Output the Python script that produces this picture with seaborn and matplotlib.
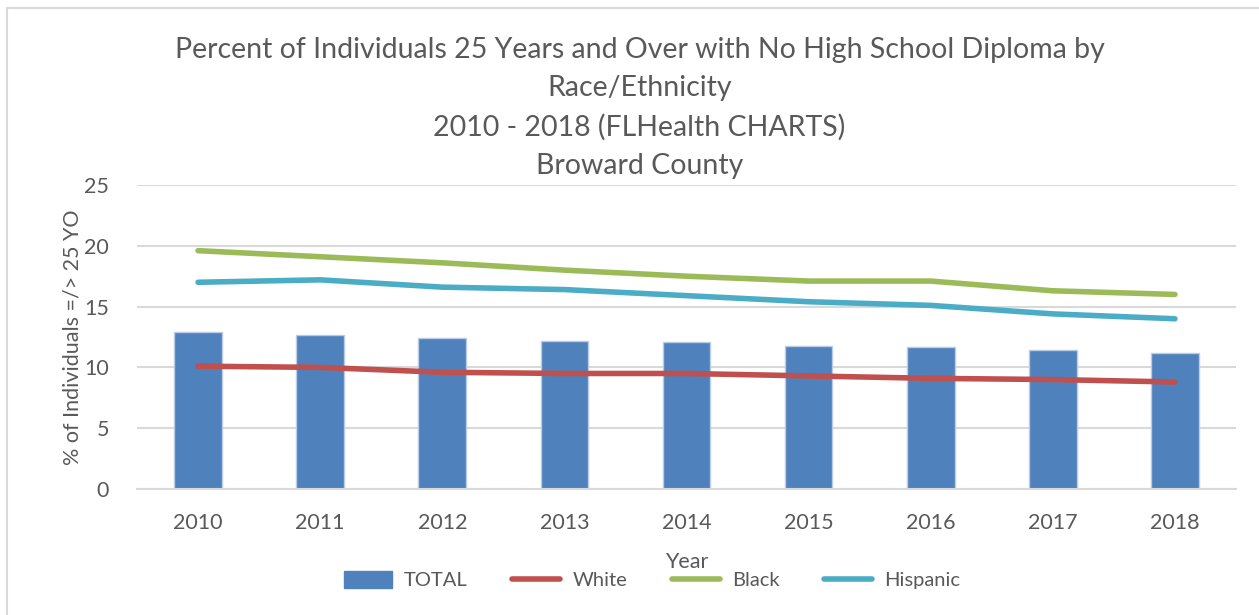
import numpy as np
import pandas as pd
import matplotlib
matplotlib.use("Agg")
import matplotlib.pyplot as plt
from matplotlib.patches import Patch
from matplotlib.lines import Line2D
import seaborn as sns

years = ["2010", "2011", "2012", "2013", "2014", "2015", "2016", "2017", "2018"]
total = [12.9, 12.7, 12.4, 12.2, 12.1, 11.8, 11.7, 11.4, 11.2]
white = [10.1, 10.0, 9.6, 9.5, 9.5, 9.3, 9.1, 9.0, 8.8]
black = [19.6, 19.1, 18.6, 18.0, 17.5, 17.1, 17.1, 16.3, 16.0]
hispanic = [17.0, 17.2, 16.6, 16.4, 15.9, 15.4, 15.1, 14.4, 14.0]
yticks = [0, 5, 10, 15, 20, 25]

title = ("Percent of Individuals 25 Years and Over with No High School Diploma by\n"
         "Race/Ethnicity\n2010 - 2018 (FLHealth CHARTS)\nBroward County")

C_BAR = "#4F81BD"
C_WHITE = "#C0504D"
C_BLACK = "#9BBB59"
C_HISP = "#4BACC6"
TXT = "#595959"
GRID = "#D9D9D9"

sns.set_theme(style="white")
plt.rcParams["font.family"] = ["Lato", "DejaVu Sans"]

fig = plt.figure(figsize=(12.59, 6.15), dpi=100)
ax = fig.add_axes([137 / 1259, 1 - 489 / 615, (1236 - 137) / 1259, (489 - 185) / 615])

df_bar = pd.DataFrame({"Year": years, "TOTAL": total})
sns.barplot(data=df_bar, x="Year", y="TOTAL", color=C_BAR, saturation=1,
            width=0.39, edgecolor="#B8CCE4", linewidth=1, ax=ax, zorder=2)

df_lines = pd.DataFrame({"Year": years, "White": white, "Black": black, "Hispanic": hispanic})
long = df_lines.melt(id_vars="Year", var_name="Race", value_name="Pct")
palette = {"White": C_WHITE, "Black": C_BLACK, "Hispanic": C_HISP}
sns.pointplot(data=long, x="Year", y="Pct", hue="Race", palette=palette,
              markers="", linestyles="-", errorbar=None, dodge=False,
              legend=False, ax=ax, linewidth=4, solid_capstyle="round", zorder=3)

ax.set_ylim(0, 25)
ax.set_yticks(yticks)
ax.set_xlim(-0.5, len(years) - 0.5)
ax.yaxis.grid(True, color=GRID, linewidth=1.5, zorder=0)
ax.set_axisbelow(True)
for s in ["top", "right", "left"]:
    ax.spines[s].set_visible(False)
ax.spines["bottom"].set_color(GRID)
ax.spines["bottom"].set_linewidth(1.5)
ax.tick_params(axis="both", length=0, labelsize=15.5, colors=TXT)
ax.tick_params(axis="x", pad=17)
ax.tick_params(axis="y", pad=20)
ax.set_xlabel("Year", fontsize=15.5, color=TXT, labelpad=14)
ax.set_ylabel("% of Individuals =/> 25 YO", fontsize=15.5, color=TXT, labelpad=1)

fig.text(0.508, 1 - 37 / 615, title, ha="center", va="top", fontsize=20.5,
         color=TXT, linespacing=1.58)

handles = [
    Patch(facecolor=C_BAR, edgecolor=C_BAR),
    Line2D([], [], color=C_WHITE, lw=4, solid_capstyle="round"),
    Line2D([], [], color=C_BLACK, lw=4, solid_capstyle="round"),
    Line2D([], [], color=C_HISP, lw=4, solid_capstyle="round"),
]
leg = fig.legend(handles, ["TOTAL", "White", "Black", "Hispanic"], ncol=4,
                 loc="center", bbox_to_anchor=(652 / 1259, 1 - 580 / 615),
                 frameon=False, fontsize=14.5, handlelength=2.4, handleheight=0.9,
                 handletextpad=0.6, columnspacing=2.2)
for t in leg.get_texts():
    t.set_color(TXT)

# chart border (left and top edges)
fig.add_artist(Line2D([7 / 1259, 7 / 1259], [0, 1 - 8 / 615], transform=fig.transFigure,
                      color=GRID, lw=1.5))
fig.add_artist(Line2D([7 / 1259, 1], [1 - 8 / 615, 1 - 8 / 615], transform=fig.transFigure,
                      color=GRID, lw=1.5))

fig.savefig("out.png", dpi=100, facecolor="white")
